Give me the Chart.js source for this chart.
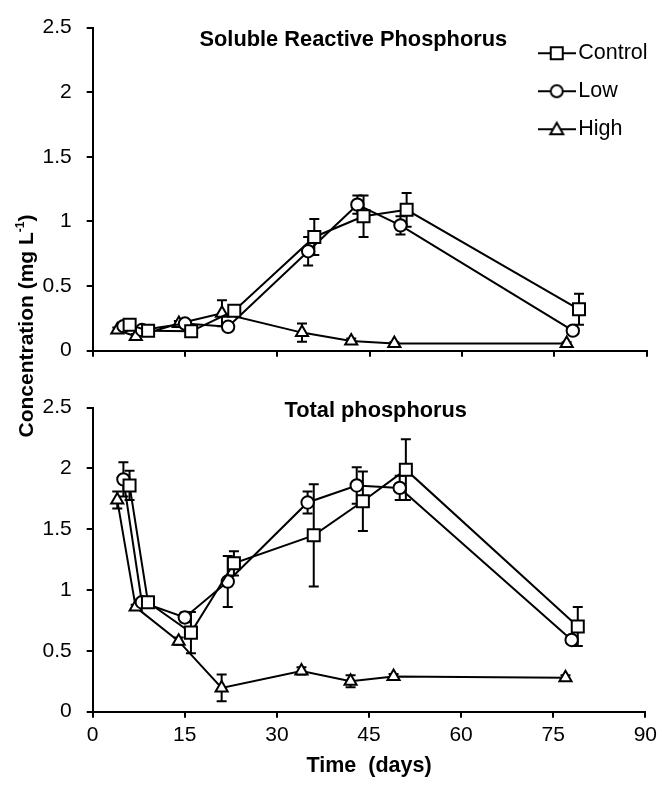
<!DOCTYPE html>
<html><head><meta charset="utf-8">
<script src="https://cdn.jsdelivr.net/npm/chart.js@4.4.1/dist/chart.umd.min.js"></script>
<style>
html,body{margin:0;padding:0;background:#fff;}
#wrap{position:relative;width:662px;height:790px;overflow:hidden;background:#fff;font-family:'Liberation Sans',Arial,sans-serif;color:#000;}
canvas{position:absolute;left:0;}
#c1{top:0;} #c2{top:380px;}
.ptitle{position:absolute;font-weight:bold;font-size:21.8px;line-height:22px;white-space:nowrap;}
#ytitle{position:absolute;left:-124px;top:314.5px;width:300px;text-align:center;font-weight:bold;font-size:21px;line-height:22px;transform:rotate(-90deg);white-space:nowrap;}
#ytitle sup{font-size:12px;line-height:0;vertical-align:9px;}
</style></head><body>
<div id="wrap">
<canvas id="c1" width="662" height="380"></canvas>
<canvas id="c2" width="662" height="410"></canvas>
<div class="ptitle" style="left:199.5px;top:27.6px">Soluble Reactive Phosphorus</div>
<div class="ptitle" style="left:284.5px;top:398.8px">Total phosphorus</div>
<div id="ytitle">Concentration (mg L<sup>-1</sup>)</div>
</div>
<script>
// ---- data ----
const seriesNames = ['Control', 'Low', 'High'];
const controlDays = [6, 9, 16, 23, 36, 44, 51, 79];
const lowDays     = [5, 8, 15, 22, 35, 43, 50, 78];
const highDays    = [4, 7, 14, 21, 34, 42, 49, 77];

const srpControl    = [0.20, 0.155, 0.15, 0.31, 0.88, 1.04, 1.09, 0.32];
const srpControlErr = [0.03, 0.02, 0.03, 0.03, 0.14, 0.16, 0.13, 0.12];
const srpLow        = [0.19, 0.16, 0.21, 0.185, 0.77, 1.13, 0.97, 0.155];
const srpLowErr     = [0.02, 0.02, 0.02, 0.02, 0.11, 0.07, 0.07, 0.03];
const srpHigh       = [0.16, 0.11, 0.21, 0.29, 0.14, 0.075, 0.055, 0.055];
const srpHighErr    = [0.02, 0.02, 0.02, 0.10, 0.07, 0.02, 0.01, 0.01];

const tpControl     = [1.86, 0.90, 0.65, 1.22, 1.45, 1.73, 1.99, 0.70];
const tpControlErr  = [0.12, 0.03, 0.17, 0.10, 0.42, 0.245, 0.25, 0.16];
const tpLow         = [1.91, 0.90, 0.775, 1.07, 1.72, 1.86, 1.84, 0.59];
const tpLowErr      = [0.14, 0.03, 0.04, 0.21, 0.09, 0.15, 0.10, 0.03];
const tpHigh        = [1.74, 0.86, 0.58, 0.195, 0.335, 0.25, 0.29, 0.28];
const tpHighErr     = [0.07, 0.02, 0.03, 0.11, 0.03, 0.05, 0.02, 0.02];

const xTickLabels = ['0', '15', '30', '45', '60', '75', '90'];
const yTickLabels = ['0', '0.5', '1', '1.5', '2', '2.5'];
const xTitle = 'Time  (days)';

// ---- chart setup ----
const FONT = "'Liberation Sans', Arial, sans-serif";
Chart.defaults.font.family = FONT;
Chart.defaults.color = '#000';

const markerStyles = [
  {pointStyle: 'rect', pointRadius: 8.5},
  {pointStyle: 'circle', pointRadius: 6.2},
  {pointStyle: 'triangle', pointRadius: 7}
];

function pts(xs, ys) { return xs.map((x, i) => ({x: x, y: ys[i]})); }

function makeDatasets(dayArrs, valArrs, errArrs) {
  return seriesNames.map((name, i) => ({
    label: name,
    data: pts(dayArrs[i], valArrs[i]),
    errors: errArrs[i],
    borderColor: '#000', borderWidth: 2, backgroundColor: '#fff',
    pointStyle: markerStyles[i].pointStyle,
    pointRadius: markerStyles[i].pointRadius,
    pointHoverRadius: markerStyles[i].pointRadius,
    pointBackgroundColor: '#fff', pointBorderColor: '#000', pointBorderWidth: 2,
    tension: 0, fill: false
  }));
}

const errorBars = {
  id: 'errorBars',
  beforeDatasetsDraw(chart) {
    const ctx = chart.ctx, xs = chart.scales.x, ys = chart.scales.y;
    ctx.save();
    ctx.strokeStyle = '#000'; ctx.lineWidth = 2;
    chart.data.datasets.forEach(ds => {
      ds.data.forEach((p, i) => {
        const e = ds.errors[i];
        if (!e) return;
        const px = xs.getPixelForValue(p.x);
        const yt = ys.getPixelForValue(p.y + e);
        const yb = ys.getPixelForValue(p.y - e);
        ctx.beginPath();
        ctx.moveTo(px, yt); ctx.lineTo(px, yb);
        ctx.moveTo(px - 5, yt); ctx.lineTo(px + 5, yt);
        ctx.moveTo(px - 5, yb); ctx.lineTo(px + 5, yb);
        ctx.stroke();
      });
    });
    ctx.restore();
  }
};

const legendMover = {
  id: 'legendMover',
  afterLayout(chart) {
    const lg = chart.legend;
    if (!lg || !lg.options.display) return;
    lg.left = 529.4; lg.top = 26;
    lg.width = 140; lg.height = 160;
    lg.right = lg.left + lg.width; lg.bottom = lg.top + lg.height;
  }
};

function makeIcon(kind) {
  const c = document.createElement('canvas');
  c.width = 38; c.height = 18;
  const g = c.getContext('2d');
  g.strokeStyle = '#000'; g.lineWidth = 2; g.fillStyle = '#fff';
  g.beginPath(); g.moveTo(0, 9); g.lineTo(38, 9); g.stroke();
  g.beginPath();
  if (kind === 'rect') g.rect(13, 3, 12, 12);
  else if (kind === 'circle') g.arc(19, 9, 6, 0, Math.PI * 2);
  else { g.moveTo(19, 2.5); g.lineTo(25.5, 14); g.lineTo(12.5, 14); g.closePath(); }
  g.fill(); g.stroke();
  return c;
}
const legendIcons = markerStyles.map(m => makeIcon(m.pointStyle));

const axisGrid = {display: true, drawOnChartArea: false, drawTicks: true, tickLength: 6, color: '#000', lineWidth: 2};
const axisBorder = {display: true, color: '#000', width: 2};

function makeScales(showXLabels, xHeight) {
  return {
    x: {
      type: 'linear', min: 0, max: 90,
      ticks: {stepSize: 15, autoSkip: false, maxRotation: 0, padding: 5, font: {size: 21}, color: '#000',
              callback: (v, i) => showXLabels ? xTickLabels[i] : ''},
      grid: axisGrid, border: axisBorder,
      title: showXLabels ? {display: true, text: xTitle, font: {size: 21.5, weight: 'bold'}, color: '#000', padding: {top: 0, bottom: 11}} : {display: false},
      afterFit: s => { s.height = xHeight; }
    },
    y: {
      type: 'linear', min: 0, max: 2.5,
      ticks: {stepSize: 0.5, padding: 15, font: {size: 21}, color: '#000',
              callback: (v, i) => yTickLabels[i]},
      grid: axisGrid, border: axisBorder,
      afterFit: s => { s.width = 92.7; }
    }
  };
}

new Chart(document.getElementById('c1'), {
  type: 'line',
  data: {datasets: makeDatasets([controlDays, lowDays, highDays], [srpControl, srpLow, srpHigh], [srpControlErr, srpLowErr, srpHighErr])},
  options: {
    responsive: false, animation: false, devicePixelRatio: 1,
    layout: {padding: {left: 0, right: 15.3, top: 16, bottom: 0}},
    scales: makeScales(false, 29.3),
    plugins: {
      tooltip: {enabled: false},
      legend: {
        display: true, position: 'chartArea', align: 'start',
        labels: {
          usePointStyle: true, pointStyleWidth: 21.6, padding: 16.5,
          font: {size: 21.5}, color: '#000',
          generateLabels: () => seriesNames.map((name, i) => ({
            text: name, pointStyle: legendIcons[i], fillStyle: '#fff', strokeStyle: '#000',
            lineWidth: 2, fontColor: '#000', hidden: false, datasetIndex: i
          }))
        }
      }
    }
  },
  plugins: [errorBars, legendMover]
});

new Chart(document.getElementById('c2'), {
  type: 'line',
  data: {datasets: makeDatasets([controlDays, lowDays, highDays], [tpControl, tpLow, tpHigh], [tpControlErr, tpLowErr, tpHighErr])},
  options: {
    responsive: false, animation: false, devicePixelRatio: 1,
    layout: {padding: {left: 0, right: 15.3, top: 20, bottom: 0}},
    scales: makeScales(true, 78.3),
    plugins: {tooltip: {enabled: false}, legend: {display: false}}
  },
  plugins: [errorBars]
});
</script>
</body></html>
